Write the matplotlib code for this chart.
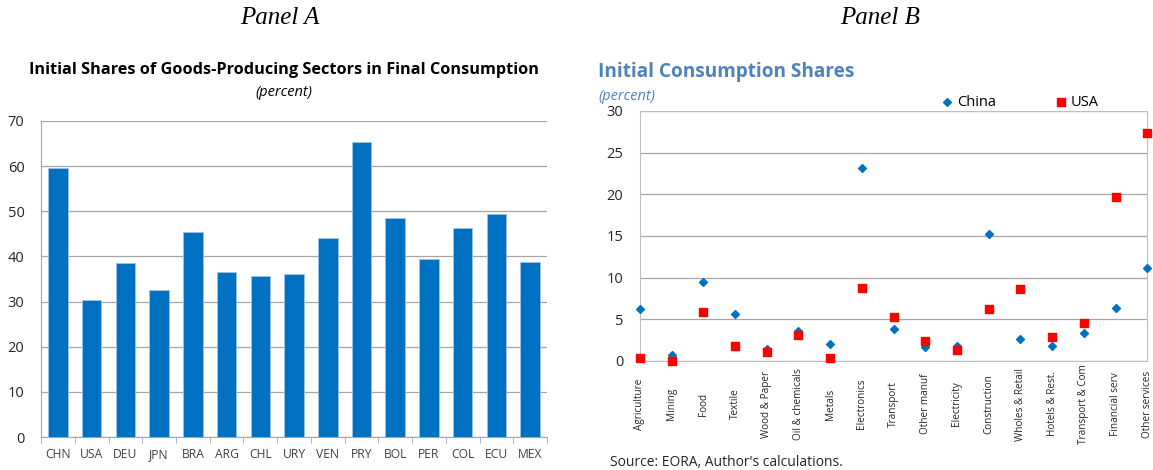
import matplotlib
matplotlib.use('Agg')
import matplotlib.pyplot as plt
import numpy as np

plt.rcParams['font.family'] = ['Open Sans', 'DejaVu Sans']

# Panel A data
countries = ['CHN', 'USA', 'DEU', 'JPN', 'BRA', 'ARG', 'CHL', 'URY',
             'VEN', 'PRY', 'BOL', 'PER', 'COL', 'ECU', 'MEX']
goods_share = [59.5, 30.3, 38.6, 32.5, 45.4, 36.5, 35.6, 36.0,
               44.1, 65.3, 48.5, 39.4, 46.4, 49.3, 38.8]

# Panel B data
sectors = ['Agriculture', 'Mining', 'Food', 'Textile', 'Wood & Paper',
           'Oil & chemicals', 'Metals', 'Electronics', 'Transport',
           'Other manuf', 'Electricity', 'Construction', 'Wholes & Retail',
           'Hotels & Rest.', 'Transport & Com', 'Financial serv',
           'Other services']
china = [6.2, 0.7, 9.5, 5.6, 1.4, 3.6, 2.0, 23.2, 3.8, 1.7, 1.8, 15.2,
         2.6, 1.8, 3.3, 6.3, 11.2]
usa = [0.3, 0.0, 5.9, 1.8, 1.1, 3.1, 0.3, 8.8, 5.3, 2.4, 1.3, 6.2,
       8.6, 2.9, 4.6, 19.7, 27.4]

blue = '#0070C0'
gridc = '#A6A6A6'
titleblue = '#4F81BD'

fig = plt.figure(figsize=(11.53, 4.70), dpi=100)

# panel headers
fig.text(0.243, 0.962, 'Panel A', ha='center', va='center', fontsize=18,
         style='italic', family='Liberation Serif')
fig.text(0.763, 0.962, 'Panel B', ha='center', va='center', fontsize=18,
         style='italic', family='Liberation Serif')

# ---- Panel A ----
ax1 = fig.add_axes([0.0356, 0.0702, 0.4388, 0.6724])
x = np.arange(len(countries))
ax1.bar(x, goods_share, width=0.58, color=blue, edgecolor='#9DC3E6',
        linewidth=0.6, zorder=3)
ax1.set_xlim(-0.5, len(countries) - 0.5)
ax1.set_ylim(0, 70)
ax1.set_yticks(range(0, 71, 10))
ax1.yaxis.grid(True, color=gridc, linewidth=0.9, zorder=0)
ax1.set_xticks(x)
ax1.set_xticklabels(countries, fontsize=8.7, color='#404040')
ax1.set_xticks(np.arange(-0.5, len(countries)), minor=True)
ax1.tick_params(axis='x', which='major', length=0, pad=8)
ax1.tick_params(axis='x', which='minor', length=4, color=gridc)
ax1.tick_params(axis='y', length=0, labelsize=10.5, pad=12, colors='#262626')
for s in ['top', 'right']:
    ax1.spines[s].set_visible(False)
ax1.spines['left'].set_color(gridc)
ax1.spines['bottom'].set_color(gridc)
fig.text(0.246, 0.851, 'Initial Shares of Goods-Producing Sectors in Final Consumption',
         ha='center', va='center', fontsize=11.7, fontweight='bold')
fig.text(0.246, 0.803, '(percent)', ha='center', va='center', fontsize=10.5,
         style='italic')

# ---- Panel B ----
ax2 = fig.add_axes([0.555, 0.232, 0.440, 0.532])
xb = np.arange(len(sectors))
ax2.scatter(xb, china, marker='D', s=16, color=blue, label='China',
            zorder=4, clip_on=False)
ax2.scatter(xb, usa, marker='s', s=30, color='#FF0000', label='USA',
            zorder=4, clip_on=False)
ax2.set_xlim(0, len(sectors) - 1)
ax2.set_ylim(0, 30)
ax2.set_yticks(range(0, 31, 5))
ax2.yaxis.grid(True, color=gridc, linewidth=0.9, zorder=0)
ax2.set_xticks(xb)
ax2.set_xticklabels(sectors, rotation=90, fontsize=7.2, color='#262626',
                    va='center')
ax2.tick_params(axis='x', length=0, pad=31)
ax2.tick_params(axis='y', length=0, labelsize=10.5, pad=12, colors='#262626')
for s in ax2.spines.values():
    s.set_color('#BFBFBF')
ax2.legend(loc='lower left', bbox_to_anchor=(0.58, 0.98), ncol=2,
           frameon=False, fontsize=10.5, handletextpad=0.2,
           columnspacing=3.9, borderaxespad=0, handlelength=1.0)
fig.text(0.519, 0.847, 'Initial Consumption Shares', ha='left', va='center',
         fontsize=13.7, fontweight='bold', color=titleblue)
fig.text(0.519, 0.794, '(percent)', ha='left', va='center', fontsize=10.5,
         style='italic', color=titleblue)
fig.text(0.529, 0.017, "Source: EORA, Author's calculations.", ha='left',
         va='center', fontsize=10, color='#262626')

fig.savefig('out.png', dpi=100)
